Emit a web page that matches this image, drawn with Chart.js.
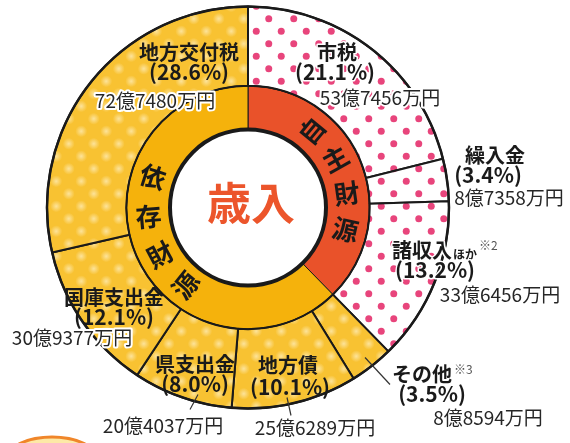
<!DOCTYPE html>
<html lang="ja">
<head>
<meta charset="utf-8">
<title>歳入</title>
<script src="https://cdn.jsdelivr.net/npm/chart.js@4.4.1/dist/chart.umd.min.js"></script>
<style>
  body { margin: 0; background: #fff; }
  #wrap { position: relative; width: 570px; height: 443px; }
</style>
</head>
<body>
<div id="wrap"><canvas id="revenue-chart"></canvas></div>
<script>
// data
const categories = ['市税', '繰入金', '諸収入', 'その他', '地方債', '県支出金', '国庫支出金', '地方交付税'];
const shares = [21.1, 3.4, 13.2, 3.5, 10.1, 8.0, 12.1, 28.6];
const amounts = ['53億7456万円', '8億7358万円', '33億6456万円', '8億8594万円', '25億6289万円', '20億4037万円', '30億9377万円', '72億7480万円'];
const smallSuffix = ['', '', 'ほか', '', '', '', '', ''];
const notes = ['', '', '※2', '※3', '', '', '', ''];
const groups = ['自主財源', '依存財源'];
const groupShares = [37.7, 62.3];
const groupOf = [0, 0, 0, 1, 1, 1, 1, 1];
const centerTitle = '歳入';

// label layout, offsets from the chart centre
const namePos = [[89, -155], [247, -52], [174, 43], [174, 167], [40, 158], [-53, 157], [-134, 90], [-59, -155]];
const pctPos = [[87, -135], [240, -32], [187, 63], [184, 187], [42, 180], [-53, 177], [-134, 110], [-59, -135]];
const amtPos = [[132, -110], [261, -10], [252, 87], [240, 210], [67, 220], [-85, 218], [-176, 130], [-93, -107]];
const leaders = {3: [117, 150, 142, 177], 4: [39, 190, 43, 208], 5: [-50, 187, -58, 202]};

const FONT = '"Noto Sans CJK JP", "Noto Sans", sans-serif';

function dotPattern(bg, dot, soft) {
  const c = document.createElement('canvas');
  c.width = 25; c.height = 25;
  const g = c.getContext('2d');
  g.fillStyle = bg;
  g.fillRect(0, 0, 25, 25);
  [[6.25, 6.25], [18.75, 18.75]].forEach(([x, y]) => {
    if (soft) {
      const rg = g.createRadialGradient(x, y, 0, x, y, 6);
      rg.addColorStop(0, dot);
      rg.addColorStop(1, bg);
      g.fillStyle = rg;
      g.beginPath(); g.arc(x, y, 6, 0, Math.PI * 2); g.fill();
    } else {
      g.fillStyle = dot;
      g.beginPath(); g.arc(x, y, 3.5, 0, Math.PI * 2); g.fill();
    }
  });
  return g.createPattern(c, 'repeat');
}

const pinkDots = dotPattern('#ffffff', '#e8457c', false);
const yellowDots = dotPattern('#f8c232', '#fde39a', true);

function haloText(ctx, txt, x, y, fill, halo) {
  ctx.lineJoin = 'round';
  ctx.strokeStyle = '#fff';
  ctx.lineWidth = halo;
  if (halo) ctx.strokeText(txt, x, y);
  ctx.fillStyle = fill;
  ctx.fillText(txt, x, y);
}

const ringText = {
  id: 'ringText',
  afterDatasetsDraw(chart) {
    const ctx = chart.ctx;
    const outer = chart.getDatasetMeta(0).data;
    const inner = chart.getDatasetMeta(1).data;
    const cx = outer[0].x, cy = outer[0].y;
    const R = outer[0].outerRadius, rMid = outer[0].innerRadius, r0 = inner[0].innerRadius;

    ctx.save();
    // outlines
    ctx.strokeStyle = '#1a1a1a';
    ctx.lineWidth = 2.5;
    ctx.beginPath(); ctx.arc(cx, cy, R, 0, Math.PI * 2); ctx.stroke();
    ctx.lineWidth = 1.5;
    ctx.beginPath(); ctx.arc(cx, cy, rMid, 0, Math.PI * 2); ctx.stroke();
    ctx.fillStyle = '#fff';
    ctx.beginPath(); ctx.arc(cx, cy, r0, 0, Math.PI * 2); ctx.fill();
    ctx.lineWidth = 4;
    ctx.beginPath(); ctx.arc(cx, cy, r0, 0, Math.PI * 2); ctx.stroke();

    // centre title
    ctx.fillStyle = '#ec552b';
    ctx.font = 'bold 44px ' + FONT;
    ctx.textAlign = 'center';
    ctx.textBaseline = 'middle';
    ctx.fillText(centerTitle, cx + 3, cy - 4);

    // group names along the inner ring (vertical writing)
    const rText = (r0 + rMid) / 2;
    inner.forEach((arc, gi) => {
      const chars = groups[gi].split('');
      const mid = (arc.startAngle + arc.endAngle) / 2 + Math.PI / 2;
      const step = gi === 0 ? 21 : -23;
      const shift = gi === 0 ? 3.5 : 5.5;
      ctx.font = 'bold 26px ' + FONT;
      ctx.fillStyle = '#1a1a1a';
      chars.forEach((ch, k) => {
        const th = mid + (shift + (k - 1.5) * step) * Math.PI / 180;
        const x = cx + rText * Math.sin(th), y = cy - rText * Math.cos(th);
        ctx.save();
        ctx.translate(x, y);
        ctx.rotate(th - (gi === 0 ? Math.PI / 2 : Math.PI * 1.5));
        ctx.fillText(ch, 0, 0);
        ctx.restore();
      });
    });

    // leader lines
    ctx.strokeStyle = '#333';
    ctx.lineWidth = 1.2;
    Object.keys(leaders).forEach(i => {
      const [x1, y1, x2, y2] = leaders[i];
      ctx.beginPath(); ctx.moveTo(cx + x1, cy + y1); ctx.lineTo(cx + x2, cy + y2); ctx.stroke();
    });

    // category labels
    categories.forEach((name, i) => {
      const halo = groupOf[i] === 0 ? 3 : 0;
      ctx.textAlign = 'center';
      ctx.font = 'bold 20px ' + FONT;
      const nx = cx + namePos[i][0], ny = cy + namePos[i][1];
      haloText(ctx, name, nx, ny, '#1a1a1a', halo);
      let ex = nx + ctx.measureText(name).width / 2;
      ctx.textAlign = 'left';
      if (smallSuffix[i]) {
        ctx.font = 'bold 12px ' + FONT;
        haloText(ctx, smallSuffix[i], ex + 1, ny + 4, '#1a1a1a', halo);
        ex += ctx.measureText(smallSuffix[i]).width + 1;
      }
      if (notes[i]) {
        ctx.font = '12px ' + FONT;
        haloText(ctx, notes[i], ex + 2, ny - 5, '#555', 3);
      }
      ctx.textAlign = 'center';
      ctx.font = 'bold 21px ' + FONT;
      haloText(ctx, '(' + shares[i].toFixed(1) + '%)', cx + pctPos[i][0], cy + pctPos[i][1], '#1a1a1a', halo);

      ctx.font = '19px ' + FONT;
      haloText(ctx, amounts[i], cx + amtPos[i][0], cy + amtPos[i][1], '#262626', 4);
    });

    // cropped badge at the bottom left
    ctx.beginPath();
    ctx.ellipse(52, 458, 44, 21, 0, 0, Math.PI * 2);
    ctx.fillStyle = '#fde9a6';
    ctx.fill();
    ctx.strokeStyle = '#f0862a';
    ctx.lineWidth = 3;
    ctx.stroke();
    ctx.restore();
  }
};

new Chart(document.getElementById('revenue-chart'), {
  type: 'doughnut',
  data: {
    labels: categories,
    datasets: [{
      label: '歳入',
      data: shares,
      weight: 80,
      backgroundColor: groupOf.map(g => g === 0 ? pinkDots : yellowDots),
      borderColor: '#1a1a1a',
      borderWidth: 2
    }, {
      label: '財源',
      data: groupShares,
      weight: 44,
      backgroundColor: ['#e9522a', '#f5b20c'],
      borderColor: '#1a1a1a',
      borderWidth: 1
    }]
  },
  options: {
    responsive: true,
    maintainAspectRatio: false,
    animation: false,
    events: [],
    cutout: 78,
    layout: { padding: { left: 46, right: 120, top: 5, bottom: 33 } },
    plugins: {
      legend: { display: false },
      tooltip: { enabled: false }
    }
  },
  plugins: [ringText]
});
</script>
</body>
</html>
